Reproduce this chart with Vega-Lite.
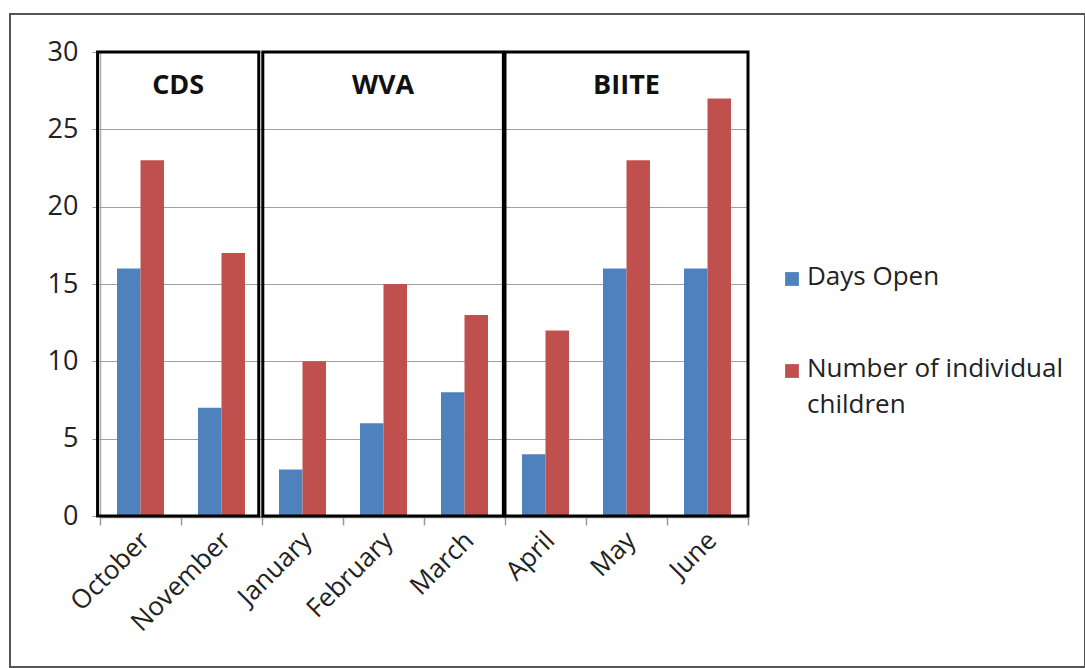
{
  "$schema": "https://vega.github.io/schema/vega-lite/v6.json",
  "width": 1075,
  "height": 653,
  "autosize": {"type": "none"},
  "padding": {"left": 10, "top": 14, "right": 0, "bottom": 1},
  "background": "white",
  "config": {
    "view": {"stroke": "#555555", "strokeWidth": 2},
    "font": "Open Sans",
    "axis": {"labelFont": "Open Sans", "labelColor": "#222222"},
    "legend": {"labelFont": "Open Sans"}
  },
  "datasets": {
    "bars": [
      {"month": "October", "series": "Days Open", "value": 16},
      {"month": "October", "series": "Number of individual children", "value": 23},
      {"month": "November", "series": "Days Open", "value": 7},
      {"month": "November", "series": "Number of individual children", "value": 17},
      {"month": "January", "series": "Days Open", "value": 3},
      {"month": "January", "series": "Number of individual children", "value": 10},
      {"month": "February", "series": "Days Open", "value": 6},
      {"month": "February", "series": "Number of individual children", "value": 15},
      {"month": "March", "series": "Days Open", "value": 8},
      {"month": "March", "series": "Number of individual children", "value": 13},
      {"month": "April", "series": "Days Open", "value": 4},
      {"month": "April", "series": "Number of individual children", "value": 12},
      {"month": "May", "series": "Days Open", "value": 16},
      {"month": "May", "series": "Number of individual children", "value": 23},
      {"month": "June", "series": "Days Open", "value": 16},
      {"month": "June", "series": "Number of individual children", "value": 27}
    ],
    "groups": [
      {"group": "CDS", "start": -0.03, "end": 1.96},
      {"group": "WVA", "start": 2.01, "end": 4.98},
      {"group": "BIITE", "start": 5.0, "end": 8.0}
    ]
  },
  "resolve": {"scale": {"x": "independent"}},
  "layer": [
    {
      "data": {"name": "bars"},
      "mark": {"type": "bar"},
      "encoding": {
        "x": {
          "field": "month",
          "type": "nominal",
          "sort": ["October", "November", "January", "February", "March", "April", "May", "June"],
          "scale": {"range": [90, 738], "paddingInner": 0.42, "paddingOuter": 0.21},
          "axis": {
            "title": null,
            "orient": "bottom",
            "offset": -150,
            "labelAngle": -45,
            "labelAlign": "right",
            "labelBaseline": "middle",
            "labelFontSize": 26,
            "labelPadding": 19,
            "labelOffset": 5,
            "ticks": false,
            "domainColor": "#999999",
            "domainWidth": 1.5,
            "grid": false
          }
        },
        "xOffset": {
          "field": "series",
          "type": "nominal",
          "sort": ["Days Open", "Number of individual children"]
        },
        "y": {
          "field": "value",
          "type": "quantitative",
          "scale": {"domain": [0, 30], "range": [502, 38], "nice": false, "zero": true},
          "axis": {
            "title": null,
            "orient": "left",
            "offset": -90,
            "values": [0, 5, 10, 15, 20, 25, 30],
            "labelFontSize": 27,
            "labelPadding": 14,
            "tickSize": 8,
            "tickColor": "#999999",
            "domainColor": "#aaaaaa",
            "domainWidth": 1.5,
            "grid": true,
            "gridColor": "#a0a0a0",
            "gridWidth": 1.2
          }
        },
        "color": {
          "field": "series",
          "type": "nominal",
          "sort": ["Days Open", "Number of individual children"],
          "scale": {"range": ["#4F81BD", "#C0504D"]},
          "legend": {
            "title": null,
            "orient": "none",
            "legendX": 769,
            "legendY": 252,
            "symbolType": "square",
            "symbolSize": 190,
            "symbolStrokeWidth": 0,
            "labelFontSize": 26,
            "labelColor": "#222222",
            "labelLimit": 400,
            "labelOffset": 2,
            "rowPadding": 66,
            "labelExpr": "datum.label == 'Number of individual children' ? ['Number of individual', 'children'] : datum.label",
            "labelBaseline": "top",
            "encode": {
              "labels": {
                "update": {
                  "lineHeight": {"value": 36},
                  "dy": {"value": -15}
                }
              }
            }
          }
        }
      }
    },
    {
      "data": {"name": "groups"},
      "transform": [{"calculate": "(datum.start + datum.end) / 2", "as": "center"}],
      "layer": [
        {
          "mark": {"type": "rect", "filled": false, "stroke": "black", "strokeWidth": 3},
          "encoding": {
            "x": {
              "field": "start",
              "type": "quantitative",
              "scale": {"domain": [0, 8], "range": [90, 738], "nice": false, "zero": false},
              "axis": {
                "orient": "bottom",
                "offset": -150,
                "title": null,
                "values": [0, 1, 2, 3, 4, 5, 6, 7, 8],
                "labels": false,
                "domain": false,
                "grid": false,
                "ticks": true,
                "tickSize": 8,
                "tickColor": "#999999",
                "tickWidth": 1.5
              }
            },
            "x2": {"field": "end"},
            "y": {"datum": 0, "type": "quantitative"},
            "y2": {"datum": 30}
          }
        },
        {
          "mark": {"type": "text", "fontWeight": "bold", "fontSize": 27, "font": "Open Sans", "baseline": "middle", "align": "center", "color": "#111111"},
          "encoding": {
            "x": {"field": "center", "type": "quantitative"},
            "y": {"datum": 27.8, "type": "quantitative"},
            "text": {"field": "group"}
          }
        }
      ]
    }
  ]
}
